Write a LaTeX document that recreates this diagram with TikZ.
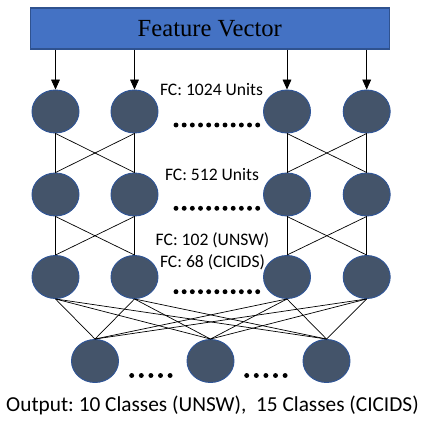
\documentclass[tikz,border=0pt]{standalone}
\usepackage{fontspec}
\setmainfont{Liberation Serif}
\setsansfont{Carlito}
\usetikzlibrary{shapes.geometric, arrows.meta}
\frenchspacing

\definecolor{boxblue}{HTML}{4472C4}
\definecolor{boxedge}{HTML}{2F528F}
\definecolor{unitfill}{HTML}{44546A}
\definecolor{unitedge}{HTML}{2F5597}

\begin{document}
\begin{tikzpicture}[x=0.03cm, y=-0.03cm, >={Triangle[width=7.5pt,length=8.5pt]},
  unit/.style={ellipse, fill=unitfill, draw=unitedge, line width=0.8pt,
    minimum width=1.41cm, minimum height=1.29cm, inner sep=0pt},
  lbl/.style={font=\sffamily\fontsize{15}{17}\selectfont, inner sep=0pt},
  wire/.style={line width=0.6pt}]
  \useasboundingbox (0,0) rectangle (425,421);

  % input
  \node[fill=boxblue, draw=boxedge, line width=1pt, minimum width=10.77cm,
    minimum height=1.23cm, font=\fontsize{21}{24}\selectfont] (fv) at (209.8,28.5) {Feature Vector};

  % hidden layers
  \foreach \r/\y in {1/111.5, 2/194.5, 3/277}
    \foreach \c/\x in {a/55.5, b/134.5, c/287, d/366.7}
      \node[unit] (h\r\c) at (\x,\y) {};

  % output layer
  \foreach \c/\x in {a/95, b/210.5, c/326.5}
    \node[unit] (o\c) at (\x,361) {};

  \foreach \c in {a,b,c,d}
    \draw[wire, ->] (fv.south -| h1\c) -- (h1\c.north);

  \foreach \r/\s in {1/2, 2/3}
    \foreach \p/\q in {a/b, c/d} {
      \draw[wire] (h\r\p.south) -- (h\s\p.north);
      \draw[wire] (h\r\p.south) -- (h\s\q.north);
      \draw[wire] (h\r\q.south) -- (h\s\p.north);
      \draw[wire] (h\r\q.south) -- (h\s\q.north);
    }

  \foreach \c in {a,b,c,d}
    \foreach \o in {a,b,c}
      \draw[wire] (h3\c.south) -- (o\o.north);

  % dots
  \foreach \y in {125, 208.3, 291.7}
    \foreach \i in {0,...,10}
      \fill (176+\i*8.17, \y) circle (2.1pt);
  \foreach \s in {131.7, 246.7}
    \foreach \i in {0,...,4}
      \fill (\s+\i*9.6, 375.5) circle (2.1pt);

  \node[lbl] (fc1) at (211.5,90) {FC: 1024 Units};
  \node[lbl] (fc2) at (212,175) {FC: 512 Units};
  \node[lbl] (fc3a) at (212.5,240) {FC: 102 (UNSW)};
  \node[lbl] (fc3b) at (212.5,262.7) {FC: 68 (CICIDS)};
  \node[font=\sffamily\fontsize{18.2}{21}\selectfont, inner sep=0pt] (out) at (212.5,405)
    {Output: 10 Classes (UNSW),\ \ 15 Classes (CICIDS)};
\end{tikzpicture}
\end{document}
